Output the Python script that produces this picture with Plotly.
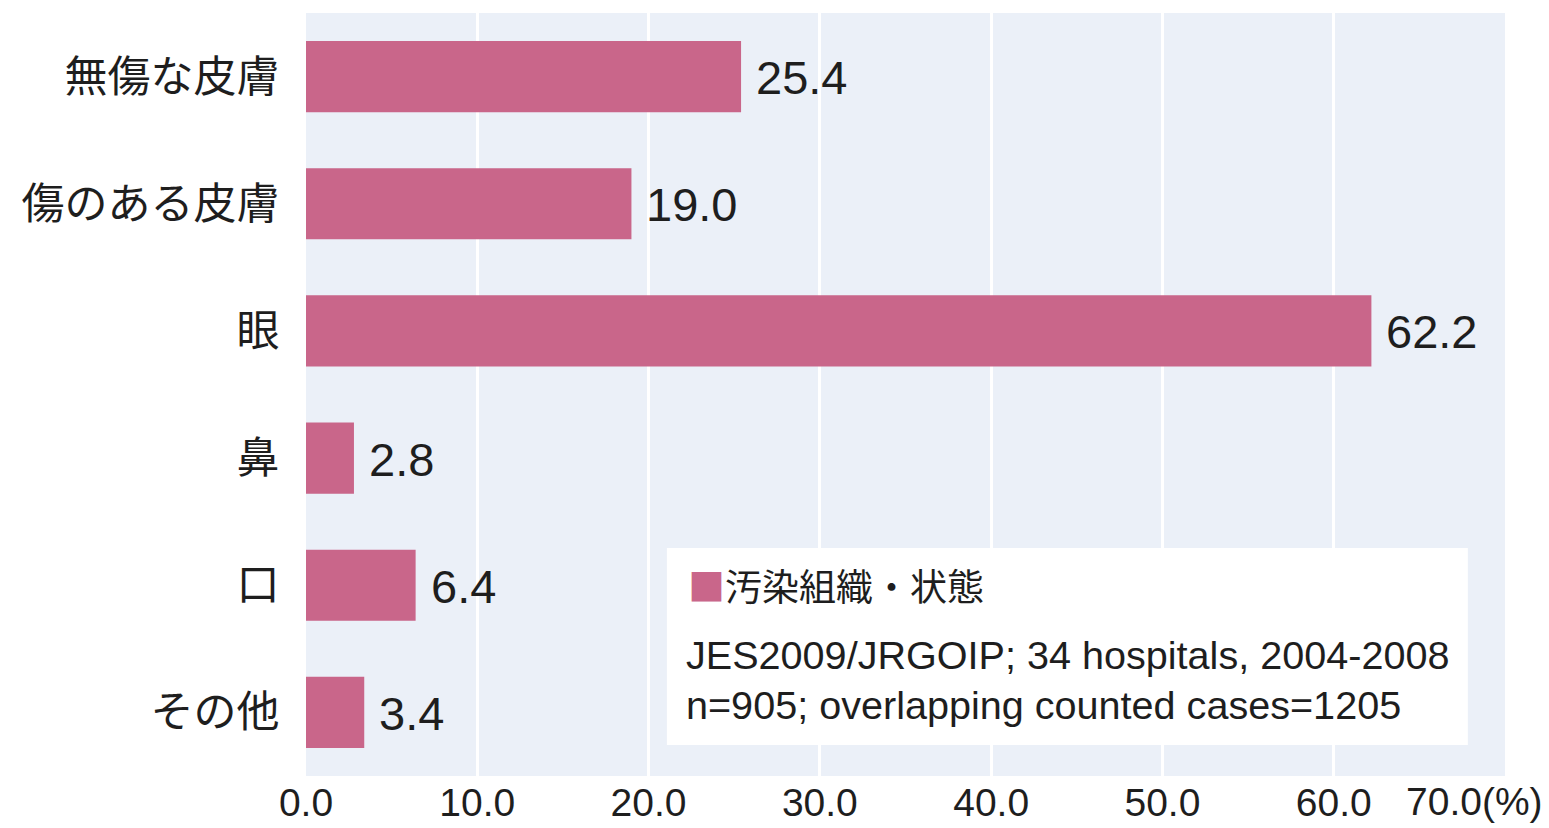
import plotly.graph_objects as go

# Contaminated tissue / condition (%), JES2009/JRGOIP
categories = ["無傷な皮膚", "傷のある皮膚", "眼", "鼻", "口", "その他"]
values = [25.4, 19.0, 62.2, 2.8, 6.4, 3.4]
tick_values = [0, 10, 20, 30, 40, 50, 60]
tick_labels = ["0.0", "10.0", "20.0", "30.0", "40.0", "50.0", "60.0"]
last_tick_label = "70.0(%)"
legend_title = "汚染組織・状態"
source_lines = [
    "JES2009/JRGOIP; 34 hospitals, 2004-2008",
    "n=905; overlapping counted cases=1205",
]

BAR_COLOR = "#c9668a"
BG_COLOR = "#ebf0f8"
TEXT_COLOR = "#1e1e1e"
NUM_FONT = "Liberation Sans, Arial, sans-serif"
JP_FONT = "Noto Sans CJK JP, sans-serif"

fig = go.Figure()
fig.add_trace(go.Bar(
    x=values,
    y=categories,
    orientation="h",
    marker=dict(color=BAR_COLOR, line=dict(width=0)),
    name=legend_title,
    showlegend=False,
    hoverinfo="x+y",
))

annotations = []
# value labels beside each bar
for cat, v in zip(categories, values):
    annotations.append(dict(
        x=v, y=cat, xref="x", yref="y",
        text=f"{v:.1f}", showarrow=False,
        xanchor="left", yanchor="middle", xshift=13, yshift=-1,
        font=dict(family=NUM_FONT, size=47, color=TEXT_COLOR),
    ))

# final axis label carrying the unit
annotations.append(dict(
    x=1.0334, y=0, xref="paper", yref="paper",
    text=last_tick_label, showarrow=False,
    xanchor="right", yanchor="middle", yshift=-25,
    font=dict(family=NUM_FONT, size=39, color=TEXT_COLOR),
))

# legend box contents
annotations.append(dict(
    x=0.3169, y=0.2503, xref="paper", yref="paper",
    text=f"<span style='color:{BAR_COLOR}'>■</span>{legend_title}",
    showarrow=False, xanchor="left", yanchor="middle",
    font=dict(family=JP_FONT, size=37, color=TEXT_COLOR),
))
for line, yy in zip(source_lines, [0.1586, 0.0930]):
    annotations.append(dict(
        x=0.3155, y=yy, xref="paper", yref="paper",
        text=line, showarrow=False, xanchor="left", yanchor="middle",
        font=dict(family=NUM_FONT, size=39.6, color=TEXT_COLOR),
    ))

fig.update_layout(
    width=1549, height=828,
    margin=dict(l=306, r=44, t=13, b=52, autoexpand=False),
    paper_bgcolor="white",
    plot_bgcolor=BG_COLOR,
    bargap=0.44,
    showlegend=False,
    annotations=annotations,
    shapes=[dict(
        type="rect", xref="paper", yref="paper",
        x0=0.301, x1=0.969, y0=0.0406, y1=0.2988,
        fillcolor="white", line=dict(width=0), layer="above",
    )],
    xaxis=dict(
        range=[0, 70],
        tickvals=tick_values,
        ticktext=tick_labels,
        showgrid=True, gridcolor="white", gridwidth=3,
        zeroline=False, showline=False,
        ticks="", ticklen=0,
        tickfont=dict(family=NUM_FONT, size=39, color=TEXT_COLOR),
        automargin=False,
        fixedrange=True,
    ),
    yaxis=dict(
        range=[5.5, -0.5],
        type="category",
        showgrid=False, zeroline=False, showline=False,
        ticks="outside", ticklen=17, tickcolor="rgba(0,0,0,0)",
        tickfont=dict(family=JP_FONT, size=43, color=TEXT_COLOR),
        automargin=False,
        fixedrange=True,
    ),
)

fig.write_html("out.html")
